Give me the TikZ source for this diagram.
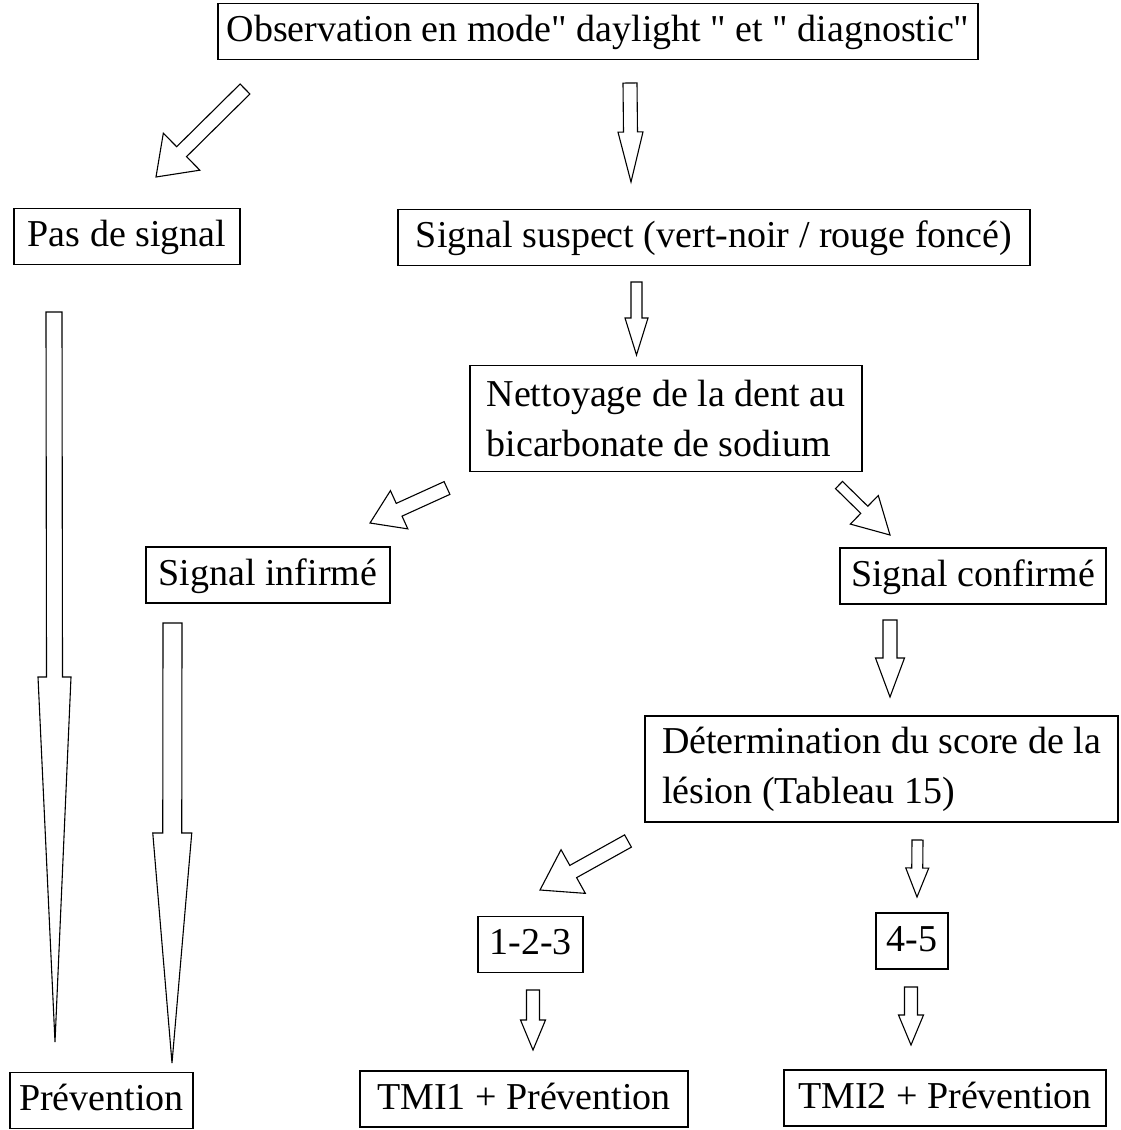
\documentclass[tikz,border=0pt]{standalone}
\usepackage{fontspec}
\setmainfont{Liberation Serif}[Ligatures=TeXOff]
\usetikzlibrary{calc}
\tikzset{
  boxbase/.style={draw, line width=1.3pt, inner xsep=8pt, inner ysep=9pt, font=\fontsize{38}{50}\selectfont},
  box/.style={boxbase, text height=29pt, text depth=9pt},
  boxtwo/.style={boxbase, align=left, inner xsep=8pt, inner ysep=6pt, minimum height=106pt},
  hollow/.style={draw, line width=1.1pt, fill=white, line join=miter}
}
% hollow block arrow: tail, tip, shaft half width, head half width, head length
\newcommand{\blockarrow}[5]{%
  \coordinate (hb) at ($(#2)!#5!(#1)$);
  \draw[hollow] ($(#1)!#3!90:(#2)$) -- ($(hb)!#3!-90:(#1)$) -- ($(hb)!#4!-90:(#1)$)
    -- (#2) -- ($(hb)!#4!90:(#1)$) -- ($(hb)!#3!90:(#1)$) -- ($(#1)!#3!-90:(#2)$) -- cycle;}

\begin{document}
\begin{tikzpicture}[x=1pt, y=-1pt]
    \useasboundingbox (0,0) rectangle (1121,1130);

    \node[box, minimum width=760pt] (obs) at (598,31.5) {Observation en mode" daylight " et " diagnostic"};
    \node[box, minimum width=226pt] (pas) at (127,236.5) {Pas de signal};
    \node[box, minimum width=632pt] (susp) at (714,237.5) {Signal suspect (vert-noir / rouge foncé)};
    \node[boxtwo, minimum width=392pt] (nett) at (666,418.5) {Nettoyage de la dent au\\bicarbonate de sodium};
    \node[box, minimum width=244pt] (inf) at (268,575) {Signal infirmé};
    \node[box, minimum width=266pt] (conf) at (973,576) {Signal confirmé};
    \node[boxtwo, minimum width=473pt] (det) at (881.5,769) {Détermination du score de la\\lésion (Tableau 15)};
    \node[box, minimum width=105pt] (s123) at (530.5,944.5) {1-2-3};
    \node[box, minimum width=72pt] (s45) at (912,941) {4-5};
    \node[box, minimum width=183pt] (prev) at (101.5,1100.5) {Prévention};
    \node[box, minimum width=328pt] (tmi1) at (524,1099) {TMI1 + Prévention};
    \node[box, minimum width=322pt] (tmi2) at (945,1098) {TMI2 + Prévention};

    % arrow ends
    \coordinate (obs-pas-t) at (245,89);   \coordinate (obs-pas-h) at (156,177);
    \coordinate (obs-susp-t) at (630,83);  \coordinate (obs-susp-h) at (631,182);
    \coordinate (susp-nett-t) at (636.5,282); \coordinate (susp-nett-h) at (636.5,355);
    \coordinate (pas-prev-t) at (54,312);  \coordinate (pas-prev-h) at (55,1042);
    \coordinate (inf-prev-t) at (172.5,623); \coordinate (inf-prev-h) at (172,1063);
    \coordinate (nett-inf-t) at (447,488); \coordinate (nett-inf-h) at (370,523);
    \coordinate (nett-conf-t) at (839,485); \coordinate (nett-conf-h) at (890,535);
    \coordinate (conf-det-t) at (890,620); \coordinate (conf-det-h) at (890,697);
    \coordinate (det-s123-t) at (628,841); \coordinate (det-s123-h) at (540,890);
    \coordinate (det-s45-t) at (917.5,840); \coordinate (det-s45-h) at (917,897);
    \coordinate (s123-tmi1-t) at (533,990); \coordinate (s123-tmi1-h) at (533,1050);
    \coordinate (s45-tmi2-t) at (911,987); \coordinate (s45-tmi2-h) at (911,1045);

    \blockarrow{obs-pas-t}{obs-pas-h}{7pt}{26pt}{36pt}
    \blockarrow{obs-susp-t}{obs-susp-h}{7pt}{12.5pt}{50pt}
    \blockarrow{susp-nett-t}{susp-nett-h}{5.5pt}{11.5pt}{37pt}
    \blockarrow{pas-prev-t}{pas-prev-h}{8pt}{16.5pt}{365pt}
    \blockarrow{inf-prev-t}{inf-prev-h}{9.5pt}{19.5pt}{230pt}
    \blockarrow{nett-inf-t}{nett-inf-h}{7pt}{21pt}{32pt}
    \blockarrow{nett-conf-t}{nett-conf-h}{5pt}{20pt}{36pt}
    \blockarrow{conf-det-t}{conf-det-h}{7pt}{14.5pt}{39pt}
    \blockarrow{det-s123-t}{det-s123-h}{7pt}{25pt}{38pt}
    \blockarrow{det-s45-t}{det-s45-h}{5.5pt}{11.5pt}{29pt}
    \blockarrow{s123-tmi1-t}{s123-tmi1-h}{6.5pt}{12.5pt}{30pt}
    \blockarrow{s45-tmi2-t}{s45-tmi2-h}{6.5pt}{12.5pt}{30pt}
\end{tikzpicture}
\end{document}
